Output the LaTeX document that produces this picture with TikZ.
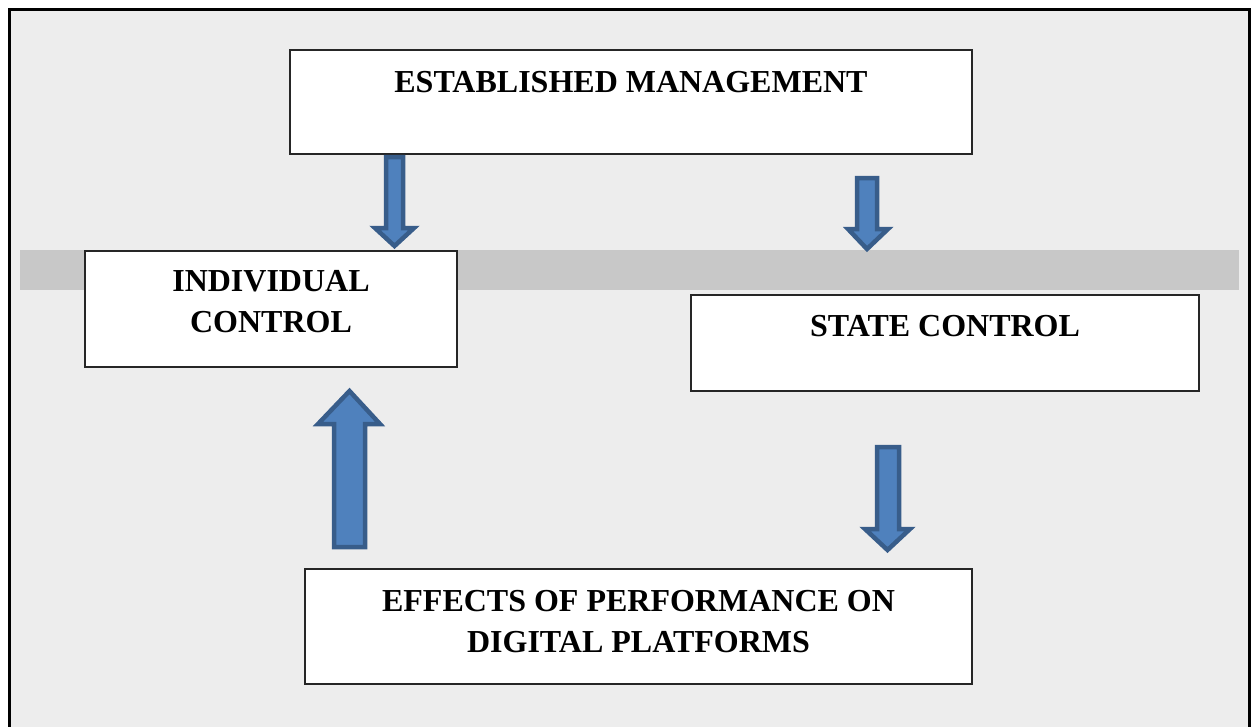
\documentclass[tikz,border=0pt]{standalone}
\usepackage{fontspec}
\setmainfont{Liberation Serif}
\definecolor{panelgray}{HTML}{EDEDED}
\definecolor{bandgray}{HTML}{C8C8C8}
\definecolor{arrowfill}{HTML}{4F81BD}
\definecolor{arrowline}{HTML}{385D8A}

\begin{document}
\begin{tikzpicture}[x=1pt, y=-1pt,
        box/.style={rectangle, draw=black!85, line width=1.8pt, fill=white,
                    inner sep=0pt, align=center,
                    font=\fontsize{32}{41}\selectfont\bfseries},
        blockarr/.style={draw=arrowline, fill=arrowfill, line width=4.5pt,
                         line join=miter}]
        \useasboundingbox (0,0) rectangle (1251,726);
        \clip (0,0) rectangle (1251,726);
        % panel and band
        \draw[fill=panelgray, line width=3pt] (9,9) rectangle (1249,745);
        \fill[bandgray] (20,250) rectangle (1239,290);
        % boxes
        \node[box, minimum width=682pt, minimum height=104pt, text depth=41pt]
            (mgmt) at (631,102) {ESTABLISHED MANAGEMENT};
        \node[box, minimum width=372pt, minimum height=116pt, text depth=15pt]
            (indiv) at (271,309) {INDIVIDUAL\\CONTROL};
        \node[box, minimum width=508pt, minimum height=96pt, text depth=35pt]
            (state) at (945,343) {STATE CONTROL};
        \node[box, minimum width=667pt, minimum height=115pt, text depth=11pt]
            (effects) at (638.5,626.5) {EFFECTS OF PERFORMANCE ON\\DIGITAL PLATFORMS};
        % block arrows
        \draw[blockarr] (386,157) -- (403,157) -- (403,228) -- (414,228)
            -- (394.5,246) -- (375,228) -- (386,228) -- cycle;
        \draw[blockarr] (857,178) -- (877,178) -- (877,229) -- (888,229)
            -- (867,249) -- (848,229) -- (857,229) -- cycle;
        \draw[blockarr] (334,547) -- (365,547) -- (365,424) -- (380,424)
            -- (349.5,391) -- (318,424) -- (334,424) -- cycle;
        \draw[blockarr] (877,447) -- (899,447) -- (899,529) -- (910,529)
            -- (887.5,550) -- (865,529) -- (877,529) -- cycle;
    \end{tikzpicture}
\end{document}
